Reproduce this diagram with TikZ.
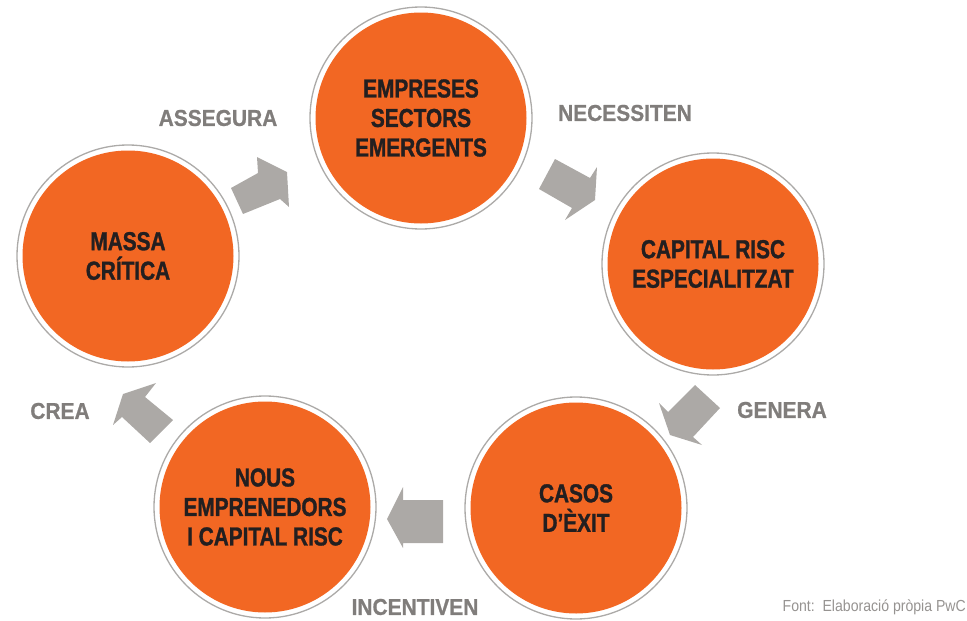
\documentclass[tikz,border=0pt]{standalone}
\usepackage{fontspec}
\newfontfamily\circfont[FakeStretch=0.80,FakeBold=1.2]{Liberation Sans Bold}
\newfontfamily\labfont[FakeStretch=0.91,FakeBold=0.8]{Liberation Sans Bold}
\newfontfamily\footfont[FakeStretch=0.88]{Liberation Sans}
\definecolor{discorange}{RGB}{242,103,35}
\definecolor{ringgrey}{RGB}{172,170,168}
\definecolor{arrowgrey}{RGB}{172,169,166}
\definecolor{labgrey}{RGB}{128,125,123}
\definecolor{footgrey}{RGB}{150,147,145}
\definecolor{textdark}{RGB}{35,31,32}
\begin{document}
\begin{tikzpicture}[x=1pt,y=-1pt,
  disc/.style={circle, draw=ringgrey, line width=1.3pt, fill=white,
    minimum size=222pt, inner sep=0pt, align=center, text=textdark,
    font=\circfont\fontsize{26}{29.5}\selectfont,
    path picture={\fill[discorange] (path picture bounding box.center) circle[radius=105.5pt];}},
  lab/.style={text=labgrey, font=\labfont\fontsize{23}{26}\selectfont, inner sep=0pt},
  blockarrow/.style={fill=arrowgrey}]
\useasboundingbox (0,0) rectangle (967,621);

% circles
\node[disc] (emp) at (421,118) {EMPRESES\\SECTORS\\EMERGENTS};
\node[disc] (cap) at (713,264) {CAPITAL RISC\\ESPECIALITZAT};
\node[disc] (cas) at (576,508) {CASOS\\D’ÈXIT};
\node[disc] (nous) at (265,507) {NOUS\\EMPRENEDORS\\I CAPITAL RISC};
\node[disc] (mas) at (128,256) {MASSA\\CRÍTICA};

% block arrows
\fill[blockarrow] (231,188) -- (258,173) -- (257,157) -- (287,172) -- (289,207) -- (280,199) -- (243,214) -- cycle;
\fill[blockarrow] (555,159) -- (590,178) -- (597,167) -- (595,200) -- (565,220) -- (572,208) -- (539,189) -- cycle;
\fill[blockarrow] (695,385) -- (720,408) -- (693,437) -- (702,445) -- (670,435) -- (659,403) -- (668,412) -- cycle;
\fill[blockarrow] (443,500) -- (443,543) -- (403,543) -- (403,548) -- (387,519) -- (403,487) -- (403,500) -- cycle;
\fill[blockarrow] (173,420) -- (150,443) -- (122,417) -- (113,425) -- (123,394) -- (156,383) -- (145,397) -- cycle;

% labels
\node[lab] (l1) at (218,118) {ASSEGURA};
\node[lab] (l2) at (625,113) {NECESSITEN};
\node[lab] (l3) at (782,410) {GENERA};
\node[lab] (l4) at (415,607) {INCENTIVEN};
\node[lab] (l5) at (60,411) {CREA};

\node[text=footgrey, font=\footfont\fontsize{16}{18}\selectfont, anchor=east, inner sep=0pt] (src) at (966,607) {Font:\ \ Elaboració pròpia PwC};
\end{tikzpicture}
\end{document}
